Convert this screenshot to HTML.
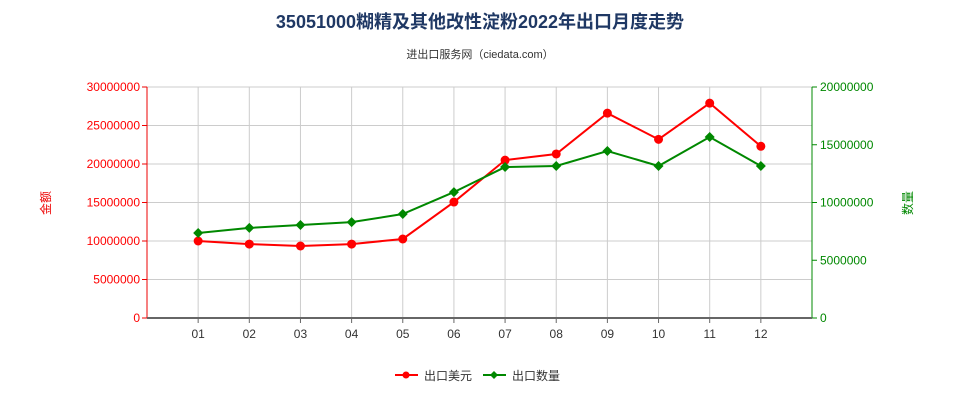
<!DOCTYPE html>
<html><head><meta charset="utf-8"><style>
body{margin:0;background:#fff;font-family:"Liberation Sans","Noto Sans CJK SC",sans-serif}
svg text{font-family:"Liberation Sans","Noto Sans CJK SC",sans-serif}
</style></head><body>
<svg id="c" width="960" height="400">
<text x="480" y="28" text-anchor="middle" font-size="18" font-weight="bold" fill="#1f3864">35051000糊精及其他改性淀粉2022年出口月度走势</text>
<text x="480" y="58" text-anchor="middle" font-size="11" fill="#333">进出口服务网（ciedata.com）</text>
<text x="50" y="203" text-anchor="middle" font-size="12" fill="#e00" transform="rotate(-90 50 203)">金额</text>
<text x="912" y="203" text-anchor="middle" font-size="12" fill="#080" transform="rotate(-90 912 203)">数量</text>
<g id="g"></g>
<g>
<g><line x1="395" y1="375" x2="418" y2="375" stroke="#f00" stroke-width="2"/><circle cx="406" cy="375" r="3.5" fill="#f00"/><text x="424" y="380" font-size="12" fill="#333">出口美元</text></g>
<g><line x1="483" y1="375" x2="506" y2="375" stroke="#080" stroke-width="2"/><path d="M494 371 L498 375 L494 379 L490 375Z" fill="#080"/><text x="512" y="380" font-size="12" fill="#333">出口数量</text></g>
</g>
</svg>
<script>
const categories=["01","02","03","04","05","06","07","08","09","10","11","12"];
const usdValues=[10000000,9600000,9350000,9600000,10260000,15060000,20500000,21300000,26600000,23200000,27900000,22300000];
const qtyValues=[7360000,7800000,8050000,8300000,9000000,10900000,13070000,13160000,14460000,13160000,15670000,13160000];
const leftTicks=[0,5000000,10000000,15000000,20000000,25000000,30000000];
const rightTicks=[0,5000000,10000000,15000000,20000000];
const X0=147,X1=812,Y0=318,Y1=87;
const step=(X1-X0)/13;
const xs=i=>X0+step*(i+1);
const yl=v=>Y0-(v/30000000)*(Y0-Y1);
const yr=v=>Y0-(v/20000000)*(Y0-Y1);
const g=document.getElementById('g');const NS="http://www.w3.org/2000/svg";
function el(t,a,p){const e=document.createElementNS(NS,t);for(const k in a)e.setAttribute(k,a[k]);(p||g).appendChild(e);return e;}
leftTicks.forEach(v=>{const y=yl(v);
const l=el('line',{x1:X0,x2:X1,y1:y,y2:y,stroke:'#ccc'});


el('line',{x1:X0-5,x2:X0,y1:y,y2:y,stroke:'#e00'});
const t=el('text',{x:X0-7,y:y+4,'text-anchor':'end','font-size':12,fill:'#f00'});t.textContent=v;

});
rightTicks.forEach(v=>{const y=yr(v);
el('line',{x1:X1,x2:X1+5,y1:y,y2:y,stroke:'#080'});
const t=el('text',{x:X1+8,y:y+4,'font-size':12,fill:'#080'});t.textContent=v;

});
categories.forEach((c,i)=>{const x=xs(i);
const l=el('line',{x1:x,x2:x,y1:Y1,y2:Y0,stroke:'#ccc'});


el('line',{x1:x,x2:x,y1:Y0,y2:Y0+5,stroke:'#666'});
const t=el('text',{x:x,y:Y0+20,'text-anchor':'middle','font-size':12,fill:'#333'});t.textContent=c;

});
el('line',{x1:X0,x2:X0,y1:Y1,y2:Y0,stroke:'#e00'});
el('line',{x1:X1,x2:X1,y1:Y1,y2:Y0,stroke:'#080'});
el('line',{x1:X0,x2:X1,y1:Y0,y2:Y0,stroke:'#666',"stroke-width":2});
const pr=el('polyline',{points:usdValues.map((v,i)=>xs(i)+','+yl(v)).join(' '),fill:'none',stroke:'#f00','stroke-width':2});


const pg=el('polyline',{points:qtyValues.map((v,i)=>xs(i)+','+yr(v)).join(' '),fill:'none',stroke:'#080','stroke-width':2});


usdValues.forEach((v,i)=>{const c=el('circle',{cx:xs(i),cy:yl(v),r:4.5,fill:'#f00'});

});
qtyValues.forEach((v,i)=>{const x=xs(i),y=yr(v);const p=el('path',{d:`M${x} ${y-5}L${x+5} ${y}L${x} ${y+5}L${x-5} ${y}Z`,fill:'#080'});

});
</script>
</body></html>
